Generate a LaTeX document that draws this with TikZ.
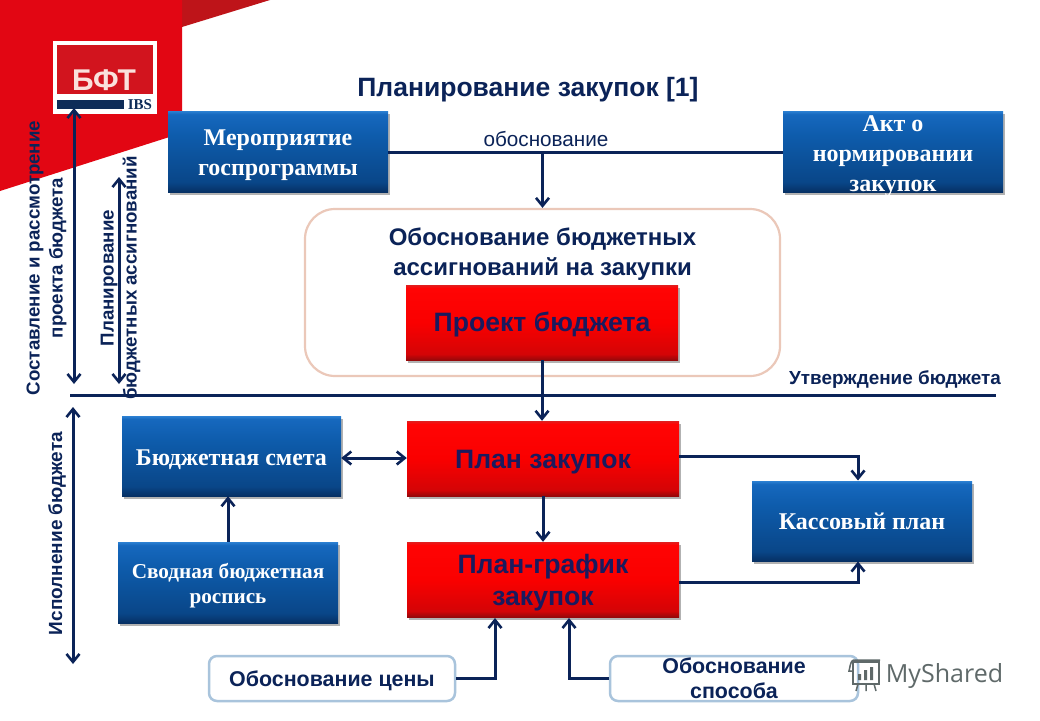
\documentclass[tikz,border=0pt]{standalone}
\usepackage{fontspec}
\setmainfont{Liberation Sans}
\newfontfamily\serifb{Liberation Serif}[BoldFont={Liberation Serif Bold}]
\newfontfamily\wm{Open Sans}
\usetikzlibrary{arrows.meta,shadows,calc}
\definecolor{navyln}{HTML}{0B2358}
\definecolor{navytx}{HTML}{1A1A5E}
\definecolor{frameln}{HTML}{A9C4DC}
\definecolor{wmgray}{HTML}{5F6969}
\definecolor{ba}{RGB}{6,48,100}
\definecolor{bb}{RGB}{9,70,136}
\definecolor{bc}{RGB}{14,92,172}
\definecolor{bd}{RGB}{22,104,190}
\definecolor{be}{RGB}{44,128,210}
\definecolor{ra}{RGB}{150,8,10}
\definecolor{rb}{RGB}{212,4,6}
\definecolor{rc}{RGB}{250,0,0}
\definecolor{rd}{RGB}{255,4,4}
\definecolor{re}{RGB}{225,30,30}
\newcommand{\fs}[2]{\fontsize{#1}{#2}\selectfont}
\newcommand{\dn}[1]{\rule{0pt}{\dimexpr .7em+#1pt*2\relax}}
\pgfdeclareverticalshading{bluesh}{100bp}{color(0bp)=(ba);color(25bp)=(ba);color(31bp)=(bb);color(60bp)=(bc);color(73bp)=(bd);color(75bp)=(be);color(100bp)=(be)}
\pgfdeclareverticalshading{redsh}{100bp}{color(0bp)=(ra);color(25bp)=(ra);color(29bp)=(rb);color(50bp)=(rc);color(73bp)=(rd);color(75bp)=(re);color(100bp)=(re)}
\tikzset{
  x=1pt,y=-1pt,
  boxbase/.style={inner sep=0pt,align=center,drop shadow={shadow xshift=1.5pt,shadow yshift=-2.5pt,opacity=.3,fill=black}},
  bluebox/.style={boxbase,shading=bluesh,text=white,font=\serifb\bfseries\fs{24}{30}},
  redbox/.style={boxbase,shading=redsh,text=navytx,font=\bfseries\fs{26.6}{32}},
  whitebox/.style={draw=frameln,line width=2.5pt,rounded corners=8pt,fill=white,align=center,text=navyln,font=\bfseries\fs{21.4}{25}},
  conn/.style={draw=navyln,line width=3pt},
  arr/.style={conn,-{Straight Barb[length=8pt,width=13pt,line width=2.6pt]}},
  darr/.style={conn,{Straight Barb[length=8pt,width=13pt,line width=2.6pt]}-{Straight Barb[length=8pt,width=13pt,line width=2.6pt]}},
  lab/.style={text=navyln,font=\bfseries\fs{18.7}{23},align=center},
  vlab/.style={lab,rotate=90},
}
\begin{document}
\begin{tikzpicture}
\useasboundingbox (0,0) rectangle (1040,720);
\fill[white] (0,0) rectangle (1040,720);
% red corner
\fill[color={rgb,255:red,190;green,20;blue,25}] (182,0) -- (270,0) -- (182,27) -- cycle;
\fill[color={rgb,255:red,226;green,6;blue,19}] (0,0) -- (182,0) -- (182,133) -- (0,191) -- cycle;
% logo
\fill[white] (53,41) rectangle (157,114);
\fill[color={rgb,255:red,210;green,20;blue,30}] (57,45) rectangle (153,94);
\fill[color={rgb,255:red,14;green,44;blue,88}] (57,99.5) rectangle (124,109);
\node[inner sep=0pt,text={rgb,255:red,250;green,225;blue,220},font=\bfseries\fs{30}{30}] (logotx) at (104,80) {БФТ};
\node[inner sep=0pt,text={rgb,255:red,14;green,44;blue,88},font=\serifb\bfseries\fs{15}{15}] (ibs) at (140,104.5) {IBS};
% title
\node[text=navyln,font=\bfseries\fs{26.5}{30},inner sep=0pt] (title) at (528,90) {Планирование закупок [1]};
% rounded frame
\node[draw={rgb,255:red,235;green,200;blue,185},line width=2.2pt,rounded corners=30pt,minimum width=475pt,minimum height=167pt,inner sep=0pt,fill=white] (frame) at (542.5,292.5) {};
\node[lab,font=\bfseries\fs{24}{30},inner sep=0pt] (ftx) at (542.5,254.5) {Обоснование бюджетных\\ассигнований на закупки};
% boxes
\node[bluebox,minimum width=220pt,minimum height=81pt] (m) at (278,151.5) {\dn{3}Мероприятие\\госпрограммы};
\node[bluebox,minimum width=220pt,minimum height=81pt] (akt) at (893,151.5) {\raisebox{-10pt}[0pt][0pt]{\begin{tabular}[c]{@{}c@{}}Акт о\\нормировании\\закупок\end{tabular}}};
\node[redbox,minimum width=272pt,minimum height=75pt] (proj) at (542,322.5) {\dn{2}Проект бюджета};
\node[bluebox,minimum width=219pt,minimum height=80pt] (smeta) at (231.5,456) {\dn{3}Бюджетная смета};
\node[redbox,minimum width=272pt,minimum height=75pt] (plan) at (543,458.5) {\dn{3.5}План закупок};
\node[bluebox,minimum width=220pt,minimum height=80pt] (kass) at (862,521) {Кассовый план};
\node[bluebox,minimum width=220pt,minimum height=81pt,font=\serifb\bfseries\fs{21.2}{25}] (svod) at (228,582.5) {\dn{3}Сводная бюджетная\\роспись};
\node[redbox,minimum width=272pt,minimum height=75pt] (graf) at (543,579.5) {\dn{3}План-график\\закупок};
\node[whitebox,minimum width=246pt,minimum height=45pt,inner sep=0pt] (cena) at (332,678.5) {\dn{2.5}Обоснование цены};
\node[whitebox,minimum width=248pt,minimum height=45pt,inner sep=0pt] (spos) at (734,678.5) {Обоснование\\способа};
% free ends
\coordinate (hl) at (70,395.5);
\coordinate (hr) at (996,395.5);
\coordinate (a1t) at (74,108);
\coordinate (a1b) at (74,384);
\coordinate (a2t) at (119,177);
\coordinate (a2b) at (119,384);
\coordinate (a3t) at (73,407);
\coordinate (a3b) at (73,664);
% connectors
\draw[conn] (m.east |- 0,152) -- (akt.west |- 0,152);
\draw[arr] (frame.north |- m.east) -- (frame.north);
\draw[conn,line width=3.4pt] (hl) -- (hr);
\draw[arr] (proj.south) -- (proj.south |- plan.north);
\draw[arr] (plan.south) -- (plan.south |- graf.north);
\draw[darr] (smeta.east |- 0,458) -- (plan.west |- 0,458);
\draw[arr] (svod.north -| 228,0) -- (smeta.south -| 228,0);
\draw[arr] (plan.east |- 0,456) -- (858,456) -- (858,480.5);
\draw[arr] (graf.east |- 0,582) -- (858,582) -- (858,561.5);
\draw[arr] (cena.east) -- (495,678.5) -- (495,618);
\draw[arr] (spos.west) -- (569,678.5) -- (569,618);
\draw[darr] (a1t) -- (a1b);
\draw[darr] (a2t) -- (a2b);
\draw[darr] (a3t) -- (a3b);
% labels
\node[lab,inner sep=0pt] (obos) at (546,139) {\mdseries\fs{20.7}{24}обоснование};
\node[lab,inner sep=0pt,font=\bfseries\fs{18.9}{22}] (utv) at (895,380) {Утверждение бюджета};
\node[vlab,inner sep=0pt] (v1) at (46.5,258) {Составление и рассмотрение\\проекта бюджета};
\node[vlab,inner sep=0pt] (v2) at (120.5,278) {Планирование\\бюджетных ассигнований};
\node[vlab,inner sep=0pt,font=\bfseries\fs{19}{23}] (v3) at (57,533.5) {Исполнение бюджета};
% watermark
\node[inner sep=0pt,text=wmgray,font=\wm\fs{25}{25}] (wmt) at (944.5,676) {MyShared};
\draw[wmgray,line width=1.5pt] (853,662) rectangle (879,684);
\draw[wmgray,line width=1.5pt] (853,660) -- (880,660) (853,660) .. controls (850,662) and (850,668) .. (849,671) -- (853,671);
\draw[wmgray,line width=1.5pt] (858,684) -- (856,691) (866,684) -- (866,691) (874,684) -- (876,691);
\fill[wmgray] (858,674) rectangle (861,680) (864,670) rectangle (867,680) (870,667) rectangle (873,680);
\end{tikzpicture}
\end{document}
